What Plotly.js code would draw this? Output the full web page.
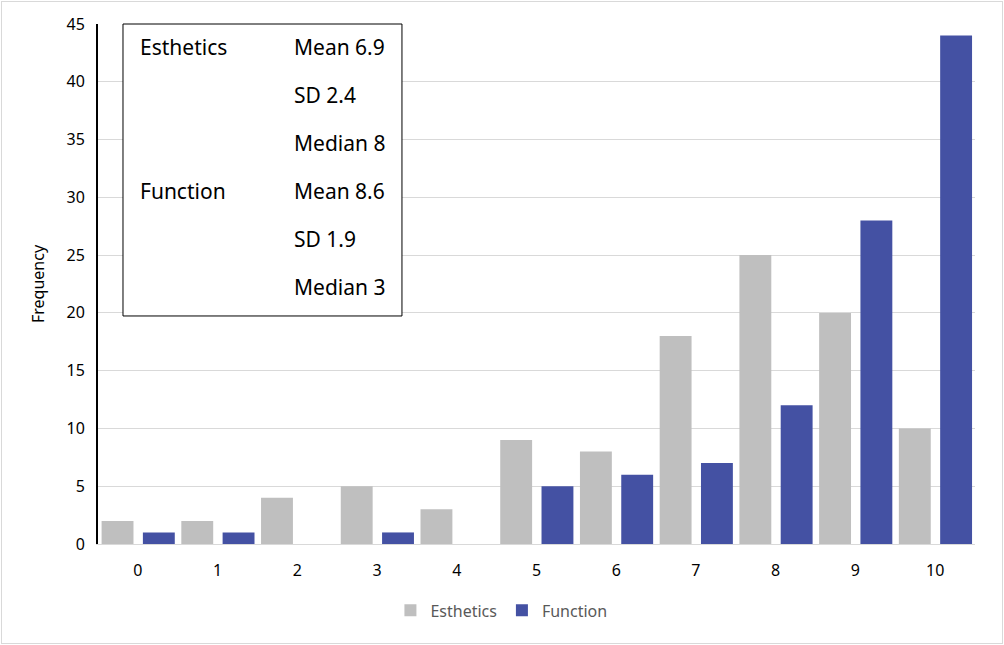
<!DOCTYPE html>
<html>
<head>
<meta charset="utf-8">
<script src="https://cdn.plot.ly/plotly-3.0.1.min.js"></script>
<style>
  body { margin: 0; background: #fff; }
  #wrap { position: relative; width: 1004px; height: 645px; }
  #chart { width: 1004px; height: 645px; }
  #frame { position: absolute; left: 1px; top: 1px; width: 1000px; height: 641px;
           border: 1px solid #d9d9d9; pointer-events: none; }
</style>
</head>
<body>
<div id="wrap">
  <div id="chart"></div>
  <div id="frame"></div>
</div>
<script>
const categories = ['0', '1', '2', '3', '4', '5', '6', '7', '8', '9', '10'];
const esthetics = [2, 2, 4, 5, 3, 9, 8, 18, 25, 20, 10];
const functionScores = [1, 1, 0, 1, 0, 5, 6, 7, 12, 28, 44];
const yTicks = [0, 5, 10, 15, 20, 25, 30, 35, 40, 45];

// inset statistics box: group label, then one line per stat
const statGroups = ['Esthetics', '', '', 'Function', '', ''];
const statLines = ['Mean 6.9', 'SD 2.4', 'Median 8', 'Mean 8.6', 'SD 1.9', 'Median 3'];

const fontFamily = '"Noto Sans", "Open Sans", sans-serif';

const traces = [
   {
      name: 'Esthetics',
      type: 'bar',
      x: categories,
      y: esthetics,
      width: 0.4,
      offset: -0.455,
      marker: {color: '#bfbfbf', line: {width: 0}},
      hoverinfo: 'x+y'
   },
   {
      name: 'Function',
      type: 'bar',
      x: categories,
      y: functionScores,
      width: 0.4,
      offset: 0.063,
      marker: {color: '#4451a3', line: {width: 0}},
      hoverinfo: 'x+y'
   }
];

// box geometry (paper coords)
const boxX0 = 0.0285, boxX1 = 0.3466, boxY0 = 0.4385, boxY1 = 1.0;
const rowTop = 0.9558, rowStep = 0.0923;
const leftCol = 0.0456, rightCol = 0.2212;

const annotations = [];
statLines.forEach((txt, i) => {
   const y = rowTop - i * rowStep;
   if (statGroups[i]) {
      annotations.push({xref: 'paper', yref: 'paper', x: leftCol, y: y, xanchor: 'left', yanchor: 'middle',
         text: statGroups[i], showarrow: false, font: {family: fontFamily, size: 21, color: '#000'}});
   }
   annotations.push({xref: 'paper', yref: 'paper', x: rightCol, y: y, xanchor: 'left', yanchor: 'middle',
      text: txt, showarrow: false, font: {family: fontFamily, size: 21, color: '#000'}});
});

const layout = {
   width: 1004,
   height: 645,
   margin: {l: 98, r: 29, t: 24, b: 101},
   paper_bgcolor: '#fff',
   plot_bgcolor: '#fff',
   font: {family: fontFamily, size: 16, color: '#000'},
   barmode: 'group',
   showlegend: true,
   legend: {
      orientation: 'h',
      x: 0.46, xanchor: 'center',
      y: -0.095, yanchor: 'top',
      font: {family: fontFamily, size: 16, color: '#595959'},
      itemwidth: 30
   },
   xaxis: {
      type: 'category',
      showgrid: false,
      showline: true,
      linecolor: '#d9d9d9',
      linewidth: 1,
      ticks: '',
      ticklabelstandoff: 12,
      tickfont: {family: fontFamily, size: 16, color: '#000'},
      zeroline: false,
      fixedrange: true
   },
   yaxis: {
      range: [0, 45],
      tickvals: yTicks,
      showgrid: true,
      gridcolor: '#d9d9d9',
      gridwidth: 1,
      showline: true,
      linecolor: '#000',
      linewidth: 2,
      zeroline: false,
      ticks: '',
      ticklabelstandoff: 8,
      tickfont: {family: fontFamily, size: 16, color: '#000'},
      title: {text: 'Frequency', font: {family: fontFamily, size: 16, color: '#000'}, standoff: 18},
      fixedrange: true
   },
   shapes: [
      {type: 'rect', xref: 'paper', yref: 'paper', x0: boxX0, x1: boxX1, y0: boxY0, y1: boxY1,
       fillcolor: '#fff', line: {color: '#000', width: 1}, layer: 'above'}
   ],
   annotations: annotations
};

Plotly.newPlot('chart', traces, layout, {displayModeBar: false, staticPlot: true});
</script>
</body>
</html>
